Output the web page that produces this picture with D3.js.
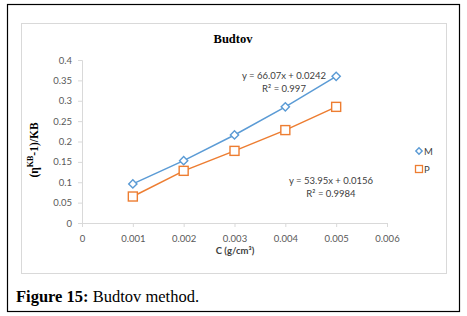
<!DOCTYPE html>
<html>
<head>
<meta charset="utf-8">
<script src="https://cdn.jsdelivr.net/npm/d3@7"></script>
<style>
    body { margin: 0; background: #fff; }
    .tick text { font-family: Lato, "Open Sans", sans-serif; font-size: 9.5px; fill: #595959; }
</style>
</head>
<body>
<div id="chart"></div>
<script>
"use strict";

var concentration = [0.001, 0.002, 0.003, 0.004, 0.005];
var seriesM = [0.096, 0.153, 0.216, 0.285, 0.360];
var seriesP = [0.065, 0.128, 0.177, 0.228, 0.285];
var xTickValues = [0, 0.001, 0.002, 0.003, 0.004, 0.005, 0.006];
var yTickValues = [0, 0.05, 0.1, 0.15, 0.2, 0.25, 0.3, 0.35, 0.4];
var seriesNames = ["M", "P"];
var fitLabels = [
    ["y = 66.07x + 0.0242", "R\u00b2 = 0.997"],
    ["y = 53.95x + 0.0156", "R\u00b2 = 0.9984"]
];

(function () {
    var W = 467, H = 316,
        blue = "#5b9bd5",
        orange = "#ed7d31",
        svg, x, y, plot, lineGen, yl, cap;

    svg = d3.select("#chart").append("svg")
        .attr("width", W).attr("height", H);

    // outer figure frame
    svg.append("rect")
        .attr("x", 7.5).attr("y", 4.5)
        .attr("width", 452).attr("height", 307)
        .attr("fill", "none").attr("stroke", "#000").attr("stroke-width", 1.2);

    // chart area border
    svg.append("rect")
        .attr("x", 21.5).attr("y", 23.5)
        .attr("width", 425).attr("height", 250)
        .attr("fill", "#fff").attr("stroke", "#d9d9d9");

    x = d3.scaleLinear().domain([0, 0.006]).range([82, 387]);
    y = d3.scaleLinear().domain([0, 0.4]).range([223, 60]);

    svg.append("g")
        .attr("transform", "translate(0," + y(0) + ")")
        .call(d3.axisBottom(x).tickValues(xTickValues).tickSize(4).tickPadding(8)
            .tickFormat(function (d) { return d === 0 ? "0" : d3.format(".3f")(d); }))
        .call(function (g) {
            g.select(".domain").attr("stroke", "#d9d9d9");
            g.selectAll(".tick line").attr("stroke", "#d9d9d9");
        });

    svg.append("g")
        .attr("transform", "translate(" + x(0) + ",0)")
        .call(d3.axisLeft(y).tickValues(yTickValues).tickSize(4).tickPadding(6)
            .tickFormat(function (d) { return d === 0 ? "0" : String(+d.toFixed(2)); }))
        .call(function (g) {
            g.select(".domain").attr("stroke", "#d9d9d9");
            g.selectAll(".tick line").attr("stroke", "#d9d9d9");
        });

    lineGen = function (vals) {
        return d3.line()
            .x(function (d, i) { return x(concentration[i]); })
            .y(function (d) { return y(d); })(vals);
    };

    plot = svg.append("g");

    plot.append("path").attr("d", lineGen(seriesM))
        .attr("fill", "none").attr("stroke", blue).attr("stroke-width", 1.5);
    plot.append("path").attr("d", lineGen(seriesP))
        .attr("fill", "none").attr("stroke", orange).attr("stroke-width", 1.5);

    // diamonds: squares turned by 45 degrees
    plot.selectAll(".m").data(seriesM).enter().append("path")
        .attr("d", d3.symbol(d3.symbolSquare, 34)())
        .attr("transform", function (d, i) {
            return "translate(" + x(concentration[i]) + "," + y(d) + ") rotate(45)";
        })
        .attr("fill", "#fff").attr("stroke", blue).attr("stroke-width", 1.4);

    plot.selectAll(".p").data(seriesP).enter().append("rect")
        .attr("x", function (d, i) { return x(concentration[i]) - 4.5; })
        .attr("y", function (d) { return y(d) - 4.5; })
        .attr("width", 9).attr("height", 9)
        .attr("fill", "#fff").attr("stroke", orange).attr("stroke-width", 1.4);

    // trendline labels
    [[284, 79], [331, 184]].forEach(function (pos, k) {
        var t = svg.append("text")
            .attr("x", pos[0]).attr("y", pos[1])
            .attr("text-anchor", "middle")
            .style("font-family", "Lato, sans-serif")
            .style("font-size", "9.5px")
            .attr("fill", "#404040");
        t.append("tspan").attr("x", pos[0]).text(fitLabels[k][0]);
        t.append("tspan").attr("x", pos[0]).attr("dy", 13).text(fitLabels[k][1]);
    });

    // title
    svg.append("text")
        .attr("x", 233).attr("y", 43)
        .attr("text-anchor", "middle")
        .style("font-family", "'Liberation Serif', serif")
        .style("font-weight", "bold").style("font-size", "12.5px")
        .text("Budtov");

    // x axis title
    svg.append("text")
        .attr("x", 235).attr("y", 254)
        .attr("text-anchor", "middle")
        .style("font-family", "Lato, sans-serif")
        .style("font-weight", "bold").style("font-size", "9.5px")
        .attr("fill", "#404040")
        .text("C (g/cm\u00b3)");

    // y axis title
    yl = svg.append("text")
        .attr("transform", "translate(38,150) rotate(-90)")
        .attr("text-anchor", "middle")
        .style("font-family", "'Liberation Serif', serif")
        .style("font-weight", "bold").style("font-size", "11.5px");
    yl.append("tspan").text("(\u03b7");
    yl.append("tspan").attr("dy", -5).style("font-size", "8px").text("KB");
    yl.append("tspan").attr("dy", 5).text("-1)/KB");

    // legend
    seriesNames.forEach(function (name, i) {
        var ly = 151 + i * 18;
        if (i === 0) {
            svg.append("path")
                .attr("d", d3.symbol(d3.symbolSquare, 20)())
                .attr("transform", "translate(419," + ly + ") rotate(45)")
                .attr("fill", "#fff").attr("stroke", blue).attr("stroke-width", 1.4);
        } else {
            svg.append("rect")
                .attr("x", 415.5).attr("y", ly - 3.5)
                .attr("width", 7).attr("height", 7)
                .attr("fill", "#fff").attr("stroke", orange).attr("stroke-width", 1.3);
        }
        svg.append("text")
            .attr("x", 424).attr("y", ly + 3.5)
            .style("font-family", "Lato, sans-serif")
            .style("font-size", "9.5px")
            .attr("fill", "#404040")
            .text(name);
    });

    // caption
    cap = svg.append("text")
        .attr("x", 16).attr("y", 302)
        .style("font-family", "'Liberation Serif', serif")
        .style("font-size", "16.5px");
    cap.append("tspan").style("font-weight", "bold").text("Figure 15:");
    cap.append("tspan").text(" Budtov method.");
}());
</script>
</body>
</html>
